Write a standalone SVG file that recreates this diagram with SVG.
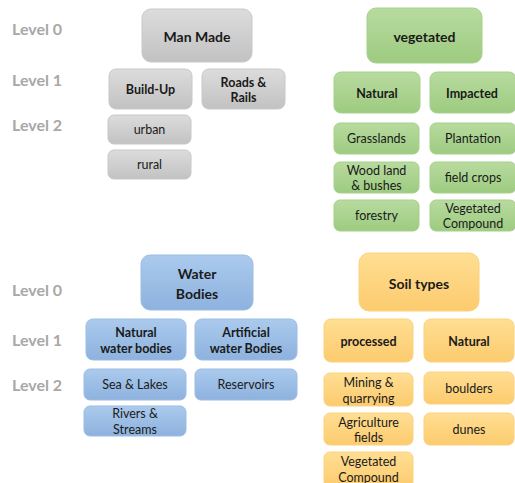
<svg xmlns="http://www.w3.org/2000/svg" width="515" height="483" viewBox="0 0 515 483">
<defs>
<linearGradient id="gGray" x1="0" y1="0" x2="0" y2="1"><stop offset="0" stop-color="#dcdcdc"/><stop offset="1" stop-color="#c2c2c2"/></linearGradient>
<linearGradient id="gGreen" x1="0" y1="0" x2="0" y2="1"><stop offset="0" stop-color="#b8db9f"/><stop offset="1" stop-color="#9dcb80"/></linearGradient>
<linearGradient id="gBlue" x1="0" y1="0" x2="0" y2="1"><stop offset="0" stop-color="#abcaed"/><stop offset="1" stop-color="#8db2de"/></linearGradient>
<linearGradient id="gOrange" x1="0" y1="0" x2="0" y2="1"><stop offset="0" stop-color="#ffde93"/><stop offset="1" stop-color="#fccb6e"/></linearGradient>
</defs>
<style>
text{font-family:Lato,"Open Sans","Liberation Sans",sans-serif;text-anchor:middle;dominant-baseline:central;fill:#1a1a1a}
.lvl{font-size:16px;font-weight:bold;fill:#a8a8a8;text-anchor:start}
.b0{font-size:14px;font-weight:bold}
.b1{font-size:12.5px;font-weight:bold}
.n{font-size:12.5px}
.gray{fill:url(#gGray);stroke:#c8c8c8;stroke-width:1}
.green{fill:url(#gGreen);stroke:#a6d08a;stroke-width:1}
.blue{fill:url(#gBlue);stroke:#9bbde6;stroke-width:1}
.orange{fill:url(#gOrange);stroke:#fcd27e;stroke-width:1}
</style>
<rect width="515" height="483" fill="#ffffff"/>
<g id="levels">
<text class="lvl" x="12" y="28">Level 0</text>
<text class="lvl" x="12" y="79">Level 1</text>
<text class="lvl" x="12" y="124">Level 2</text>
<text class="lvl" x="12" y="289">Level 0</text>
<text class="lvl" x="12" y="339">Level 1</text>
<text class="lvl" x="12" y="384">Level 2</text>
</g>
<g id="connectors"></g>
<g id="man-made"><rect class="gray" x="142" y="9" width="110" height="53" rx="9"/><text class="b0" x="197" y="36">Man Made</text></g>
<g id="build-up"><rect class="gray" x="109" y="69" width="83" height="40" rx="7"/><text class="b1" x="150.5" y="89">Build-Up</text></g>
<g id="roads-rails"><rect class="gray" x="202" y="69" width="83" height="40" rx="7"/><text class="b1" x="243.5" y="82">Roads &amp;</text><text class="b1" x="243.5" y="97">Rails</text></g>
<g id="urban"><rect class="gray" x="108" y="115" width="83" height="29" rx="6"/><text class="n" x="149.5" y="129.5">urban</text></g>
<g id="rural"><rect class="gray" x="108" y="150" width="83" height="29" rx="6"/><text class="n" x="149.5" y="164.5">rural</text></g>

<g id="vegetated"><rect class="green" x="367" y="8" width="115" height="55" rx="9"/><text class="b0" x="424.5" y="36">vegetated</text></g>
<g id="veg-natural"><rect class="green" x="334" y="72" width="86" height="41" rx="7"/><text class="b1" x="377" y="93">Natural</text></g>
<g id="veg-impacted"><rect class="green" x="430" y="72" width="86" height="41" rx="7"/><text class="b1" x="472" y="93">Impacted</text></g>
<g id="grasslands"><rect class="green" x="334" y="123" width="85" height="31" rx="6"/><text class="n" x="376.5" y="138.5">Grasslands</text></g>
<g id="plantation"><rect class="green" x="430" y="123" width="86" height="31" rx="6"/><text class="n" x="473" y="138.5">Plantation</text></g>
<g id="woodland"><rect class="green" x="334" y="162" width="85" height="31" rx="6"/><text class="n" x="376.5" y="170">Wood land</text><text class="n" x="376.5" y="185">&amp; bushes</text></g>
<g id="field-crops"><rect class="green" x="430" y="162" width="86" height="31" rx="6"/><text class="n" x="473" y="177.5">field crops</text></g>
<g id="forestry"><rect class="green" x="334" y="200" width="85" height="31" rx="6"/><text class="n" x="376.5" y="215.5">forestry</text></g>
<g id="veg-compound"><rect class="green" x="430" y="200" width="86" height="31" rx="6"/><text class="n" x="473" y="208">Vegetated</text><text class="n" x="473" y="223">Compound</text></g>

<g id="water-bodies"><rect class="blue" x="141" y="255" width="112" height="55" rx="9"/><text class="b0" x="197" y="273">Water</text><text class="b0" x="197" y="293">Bodies</text></g>
<g id="natural-water"><rect class="blue" x="86" y="319" width="100" height="41" rx="7"/><text class="b1" x="136" y="332">Natural</text><text class="b1" x="136" y="348">water bodies</text></g>
<g id="artificial-water"><rect class="blue" x="195" y="319" width="102" height="41" rx="7"/><text class="b1" x="246" y="332">Artificial</text><text class="b1" x="246" y="348">water Bodies</text></g>
<g id="sea-lakes"><rect class="blue" x="84" y="369" width="102" height="31" rx="6"/><text class="n" x="135" y="384.5">Sea &amp; Lakes</text></g>
<g id="reservoirs"><rect class="blue" x="195" y="369" width="102" height="31" rx="6"/><text class="n" x="246" y="384.5">Reservoirs</text></g>
<g id="rivers"><rect class="blue" x="84" y="406" width="102" height="30" rx="6"/><text class="n" x="135" y="413">Rivers &amp;</text><text class="n" x="135" y="429">Streams</text></g>

<g id="soil-types"><rect class="orange" x="359" y="253" width="120" height="58" rx="10"/><text class="b0" x="419" y="283">Soil types</text></g>
<g id="processed"><rect class="orange" x="324" y="319" width="89" height="43" rx="7"/><text class="b1" x="368.5" y="341">processed</text></g>
<g id="soil-natural"><rect class="orange" x="424" y="319" width="90" height="43" rx="7"/><text class="b1" x="469" y="341">Natural</text></g>
<g id="mining"><rect class="orange" x="324" y="373" width="89" height="33" rx="6"/><text class="n" x="368.5" y="382">Mining &amp;</text><text class="n" x="368.5" y="398">quarrying</text></g>
<g id="boulders"><rect class="orange" x="424" y="372" width="90" height="32" rx="6"/><text class="n" x="469" y="388">boulders</text></g>
<g id="agriculture"><rect class="orange" x="324" y="413" width="89" height="32" rx="6"/><text class="n" x="368.5" y="422">Agriculture</text><text class="n" x="368.5" y="437">fields</text></g>
<g id="dunes"><rect class="orange" x="424" y="413" width="90" height="32" rx="6"/><text class="n" x="469" y="429">dunes</text></g>
<g id="soil-compound"><rect class="orange" x="324" y="452" width="89" height="36" rx="6"/><text class="n" x="368.5" y="461">Vegetated</text><text class="n" x="368.5" y="477">Compound</text></g>
</svg>
